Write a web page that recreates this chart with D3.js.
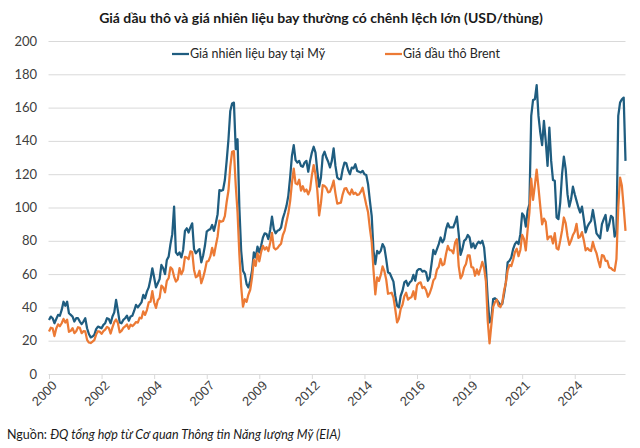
<!DOCTYPE html>
<html>
<head>
<meta charset="utf-8">
<script src="https://cdn.jsdelivr.net/npm/d3@7"></script>
<style>
  html, body { margin: 0; padding: 0; background: #fff; }
  svg { display: block; font-family: Lato, "Open Sans", sans-serif; }
  .grid line { stroke: #d9d9d9; stroke-width: 1; }
  .grid .domain { display: none; }
  .ytick text { fill: #404040; font-size: 13px; }
  .xaxis .domain, .xaxis line { stroke: #d9d9d9; }
  .xaxis text { fill: #404040; font-size: 13px; }
</style>
</head>
<body>
<svg id="chart" width="640" height="448"></svg>
<script>
/* Giá nhiên liệu bay (Mỹ) và giá dầu Brent theo tháng, USD/thùng, 01/2000 – 07/2026 */

const seriesNames = ["Giá nhiên liệu bay tại Mỹ", "Giá dầu thô Brent"];
const seriesColors = ["#1f5d80", "#ec7a35"];

// Giá nhiên liệu bay tại Mỹ, mỗi dòng một năm
const jetFuel = [
  32.4, 34.5, 33.5, 30.5, 33, 35.5, 35, 38.5, 43.4, 41, 43.4, 36.5,          // 2000
  35.5, 34.5, 31.5, 33.5, 33.5, 31.5, 30, 31.5, 33.5, 27.5, 24, 22,          // 2001
  22.5, 23.5, 27, 28.5, 28, 27.5, 29.5, 30.5, 33.5, 33, 30.5, 34.5,          // 2002
  37, 44.5, 38, 31, 30.5, 32.5, 33.5, 35, 32, 34.5, 35, 38,                  // 2003
  41.5, 40, 41.5, 43, 47.5, 45.5, 49.5, 52, 57, 63.5, 58, 52,                // 2004
  54.5, 57, 65.5, 63.5, 60, 68.5, 70.5, 78, 84, 100.5, 73, 71.5,             // 2005
  73, 70, 74.5, 86, 87.5, 85, 88, 90.5, 75, 72.5, 74, 75,                    // 2006
  67, 71, 77, 85.5, 86.5, 87, 89.5, 86, 90.5, 96, 110.5, 110,                // 2007
  110.5, 116.5, 128, 141, 158, 162.5, 163, 135, 141, 100, 74, 62,            // 2008
  60, 54, 52, 56, 62, 73, 70, 76.5, 73, 77, 82, 84.5,                        // 2009
  84, 81, 86.5, 94.5, 87, 84.5, 86, 86.5, 88, 93.5, 97, 101,                 // 2010
  107, 118, 131, 137.5, 128.5, 127, 128, 125, 124.5, 127, 128, 121.5,        // 2011
  128, 133, 136.5, 133, 122, 112.5, 118, 131, 133.5, 130, 127.5, 124,        // 2012
  128, 135.5, 125, 118, 117, 117, 123, 127, 126.5, 122.5, 120, 124,          // 2013
  123.5, 126, 122, 121.5, 121, 122, 120, 119.5, 114, 104, 95, 74,            // 2014
  66, 74, 72.5, 74, 78, 76, 69, 61, 60.5, 58, 55.5, 47,                      // 2015
  41, 40, 47, 50, 55, 56, 53, 55, 56, 59.5, 56, 62,                          // 2016
  63, 63, 61.5, 62, 61, 56, 58, 66, 74.5, 72, 75, 78,                        // 2017
  82, 79, 81, 87, 90.5, 88, 88, 88, 91, 94.5, 84, 71.5,                      // 2018
  75, 80, 81, 83.5, 82, 76, 78.5, 75.5, 78, 79.5, 78.5, 80,                  // 2019
  76, 64, 45, 31, 33, 45, 45.5, 44.5, 43, 41.5, 42, 48,                      // 2020
  55, 67, 68, 70, 75, 78, 79.5, 78, 84, 96.5, 95, 88.5,                      // 2021
  98, 102, 155, 164.5, 165, 173.5, 155, 145, 137.5, 152, 140, 125,           // 2022
  148, 128, 116.5, 116, 94, 93, 103, 120, 130.5, 123, 108, 100.5,            // 2023
  105, 112.5, 108, 104, 100, 97, 100.5, 93, 85, 88.5, 90.5, 92,              // 2024
  98.5, 92, 84.5, 83, 81.5, 90, 93, 95.5, 86, 90, 95, 94,                    // 2025
  82.5, 85, 155, 163, 165, 166, 128                                          // 2026
];

// Giá dầu thô Brent
const brent = [
  25.5, 27.8, 27.5, 22.8, 27.3, 29.8, 28.7, 30.5, 33.1, 30.9, 32.6, 25.3,    // 2000
  25.9, 27.5, 24.5, 25.7, 28.1, 27.7, 24.5, 25.7, 25.6, 20.5, 18.9, 18.6,    // 2001
  19.4, 20.3, 23.7, 25.7, 25.4, 24.1, 25.7, 26.6, 28.3, 27.5, 24.3, 28.0,    // 2002
  31.2, 32.8, 30.6, 25.0, 25.9, 27.7, 28.6, 29.8, 27.1, 29.6, 28.8, 29.8,    // 2003
  31.2, 30.9, 33.8, 33.4, 37.6, 35.5, 38.4, 43.0, 43.4, 49.8, 43.1, 39.7,    // 2004
  44.3, 45.6, 53.1, 51.9, 49.0, 56.0, 57.6, 64.1, 62.9, 58.5, 55.5, 56.7,    // 2005
  63.6, 59.9, 62.3, 70.4, 70.0, 68.9, 73.7, 73.2, 62.5, 58.1, 58.8, 62.0,    // 2006
  54.5, 57.8, 62.1, 67.5, 67.9, 70.6, 75.8, 71.2, 77.0, 82.5, 92.1, 91.5,    // 2007
  91.9, 94.8, 103.3, 110.2, 124.6, 133.5, 133.9, 113.4, 97.0, 71.9, 52.5, 40.4, // 2008
  44.9, 43.4, 47.7, 50.6, 57.9, 68.6, 64.9, 72.5, 67.7, 73.2, 77.0, 74.7,    // 2009
  76.2, 73.8, 78.8, 84.8, 75.9, 74.8, 75.6, 77.1, 78.2, 83.5, 86.1, 91.4,    // 2010
  96.5, 103.7, 114.6, 123.3, 114.5, 113.9, 116.7, 110.2, 112.8, 109.6, 110.8, 107.9, // 2011
  110.7, 119.3, 125.5, 119.8, 110.3, 95.2, 102.6, 113.4, 113.0, 111.7, 109.1, 109.5, // 2012
  112.3, 116.1, 108.5, 102.3, 102.6, 102.9, 107.9, 111.3, 111.6, 109.1, 107.8, 110.8, // 2013
  108.1, 108.9, 107.5, 107.8, 109.5, 111.9, 106.8, 101.6, 97.1, 87.4, 79.4, 62.3, // 2014
  47.8, 58.1, 55.9, 59.5, 64.6, 61.7, 56.8, 48.2, 48.5, 48.8, 45.9, 38.9,    // 2015
  31.0, 33.2, 39.1, 41.6, 46.7, 48.8, 44.7, 45.7, 46.3, 49.7, 45.0, 53.3,    // 2016
  54.6, 55.0, 51.6, 52.3, 50.3, 46.4, 48.5, 51.7, 56.2, 57.6, 62.7, 64.4,    // 2017
  69.1, 65.3, 66.0, 72.1, 76.9, 74.4, 74.3, 72.5, 78.9, 81.0, 64.8, 57.4,    // 2018
  59.4, 64.0, 66.1, 71.2, 71.3, 64.2, 63.9, 59.0, 62.8, 59.7, 63.2, 67.3,    // 2019
  63.7, 55.7, 32.0, 18.4, 29.4, 40.3, 43.2, 44.7, 40.9, 40.2, 42.7, 49.9,    // 2020
  54.8, 62.3, 65.4, 64.8, 68.5, 73.2, 75.2, 70.8, 74.5, 83.5, 81.1, 74.2,    // 2021
  86.5, 97.1, 117.3, 104.6, 113.3, 122.7, 111.9, 100.5, 89.8, 93.3, 91.4, 80.9, // 2022
  82.5, 82.6, 78.4, 84.6, 75.5, 74.8, 80.1, 86.2, 94.0, 90.6, 82.9, 77.6,    // 2023
  80.1, 83.5, 85.4, 90.2, 81.8, 82.6, 85.2, 80.4, 74.3, 75.6, 74.4, 73.9,    // 2024
  79.3, 75.2, 72.6, 68.0, 64.2, 71.4, 71.0, 67.9, 67.9, 64.0, 63.6, 62.5,    // 2025
  62.0, 69.0, 100.0, 118.0, 113.0, 100.0, 86.0                               // 2026
];

const xTickLabels = ["2000", "2002", "2004", "2007", "2009", "2012", "2014", "2016", "2019", "2021", "2024"];
const xTickStep = 29; // Excel đặt nhãn cách 29 tháng
const yTicks = [0, 20, 40, 60, 80, 100, 120, 140, 160, 180, 200];

(function () {
  const svg = d3.select("#chart");
  const pLeft = 48.5, pRight = 625.5, pTop = 41, pBottom = 374;

  const x = d3.scaleLinear().domain([0, brent.length - 1]).range([pLeft + 0.5, pRight]);
  const y = d3.scaleLinear().domain([0, 200]).range([pBottom, pTop]);

  /* tiêu đề */
  svg.append("text")
    .attr("x", 321).attr("y", 23)
    .attr("text-anchor", "middle")
    .attr("font-size", 14).attr("font-weight", "bold").attr("fill", "#1a1a1a")
    .text("Giá dầu thô và giá nhiên liệu bay thường có chênh lệch lớn (USD/thùng)");

  /* lưới + nhãn trục tung */
  svg.append("g").attr("class", "grid")
    .attr("transform", `translate(${pLeft},0)`)
    .call(d3.axisLeft(y).tickValues(yTicks.slice(1)).tickSize(-(pRight - pLeft)).tickFormat(""));

  svg.append("g").attr("class", "ytick")
    .selectAll("text").data(yTicks).join("text")
    .attr("x", 37).attr("y", d => y(d)).attr("dy", "0.35em")
    .attr("text-anchor", "end")
    .text(d => d);

  /* trục hoành */
  const xAxis = svg.append("g").attr("class", "xaxis")
    .attr("transform", `translate(0,${pBottom})`)
    .call(d3.axisBottom(x)
      .tickValues(d3.range(0, xTickLabels.length).map(i => i * xTickStep))
      .tickSize(5).tickSizeOuter(0)
      .tickFormat((d, i) => xTickLabels[i]));
  xAxis.select(".domain").attr("d", `M${pLeft},0.5H${pRight}`);
  xAxis.selectAll(".tick text")
    .attr("x", 0).attr("y", 0)
    .attr("text-anchor", "end")
    .attr("transform", "translate(5,9) rotate(-45)")
    .attr("dy", "0.35em");

  /* đường dữ liệu */
  const line = d3.line().x((d, i) => x(i)).y(d => y(d));
  [jetFuel, brent].forEach((s, k) => {
    svg.append("path")
      .datum(s)
      .attr("fill", "none")
      .attr("stroke", seriesColors[k])
      .attr("stroke-width", 2.25)
      .attr("stroke-linejoin", "round")
      .attr("d", line);
  });

  /* chú thích */
  const legendPos = [172, 385];
  seriesNames.forEach((name, k) => {
    const g = svg.append("g").attr("transform", `translate(${legendPos[k]},54)`);
    g.append("line").attr("x1", 0).attr("x2", 17).attr("y1", 0).attr("y2", 0)
      .attr("stroke", seriesColors[k]).attr("stroke-width", 2.25);
    g.append("text").attr("x", 18).attr("dy", "0.35em")
      .attr("font-size", 12.5).attr("fill", "#262626")
      .text(name);
  });

  /* nguồn */
  const src = svg.append("text").attr("x", 7).attr("y", 439)
    .attr("font-size", 12.5).attr("fill", "#1a1a1a");
  src.append("tspan").text("Nguồn: ");
  src.append("tspan").attr("font-style", "italic")
    .text("ĐQ tổng hợp từ Cơ quan Thông tin Năng lượng Mỹ (EIA)");
})();
</script>
</body>
</html>
